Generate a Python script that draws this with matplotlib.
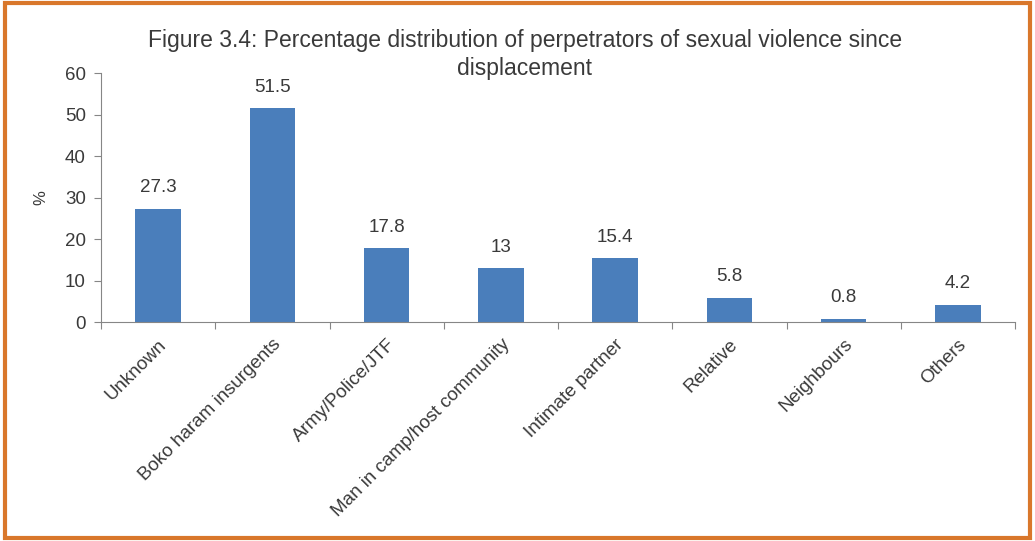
import matplotlib.pyplot as plt
from matplotlib.patches import Rectangle

categories = ['Unknown', 'Boko haram insurgents', 'Army/Police/JTF',
              'Man in camp/host community', 'Intimate partner', 'Relative',
              'Neighbours', 'Others']
values = [27.3, 51.5, 17.8, 13, 15.4, 5.8, 0.8, 4.2]
labels = ['27.3', '51.5', '17.8', '13', '15.4', '5.8', '0.8', '4.2']

plt.rcParams['font.family'] = ['Liberation Sans', 'DejaVu Sans']
txt = '#3a3a3a'

fig = plt.figure(figsize=(10.35, 5.41), dpi=100)
ax = fig.add_axes([0.0976, 0.4048, 0.8831, 0.4602])

x = range(len(categories))
bars = ax.bar(x, values, width=0.4, color='#4a7ebb', zorder=2)
for b, lab in zip(bars, labels):
    ax.text(b.get_x() + b.get_width() / 2, b.get_height() + 3.0, lab,
            ha='center', va='bottom', fontsize=13.5, color=txt)

ax.set_xlim(-0.5, len(categories) - 0.5)
ax.set_ylim(0, 60)
ax.set_yticks(range(0, 61, 10))
ax.set_xticks([i + 0.5 for i in range(-1, len(categories))], minor=False)
ax.set_xticklabels([])
ax.set_xticks(list(x), minor=True)
ax.set_xticklabels(categories, minor=True, rotation=45, ha='right',
                   rotation_mode='anchor', fontsize=13.5, color=txt)
ax.tick_params(axis='x', which='minor', length=0, pad=10)
ax.tick_params(axis='x', which='major', length=5, color='#868686',
               direction='out')
ax.tick_params(axis='y', length=5, color='#868686', labelsize=13.5,
               labelcolor=txt, pad=6)
for s in ['top', 'right']:
    ax.spines[s].set_visible(False)
for s in ['left', 'bottom']:
    ax.spines[s].set_color('#868686')
ax.set_ylabel('%', fontsize=12, color=txt, labelpad=12)

fig.text(0.507, 0.899, 'Figure 3.4: Percentage distribution of perpetrators of sexual violence since\ndisplacement',
         ha='center', va='center', fontsize=16.5, color=txt,
         linespacing=1.25)

fig.patches.append(Rectangle((0.005, 0.006), 0.99, 0.988, transform=fig.transFigure,
                             fill=False, edgecolor='#d9772b', linewidth=3))

fig.savefig('out.png', dpi=100)
